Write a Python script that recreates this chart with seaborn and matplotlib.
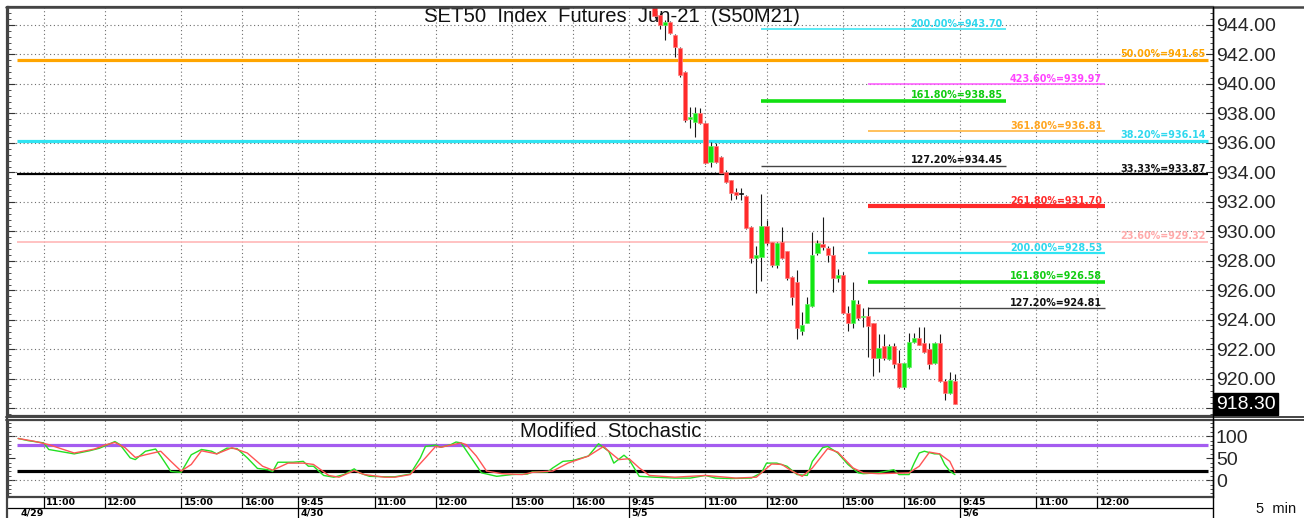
import numpy as np
import pandas as pd
import matplotlib
matplotlib.use("Agg")
import matplotlib.pyplot as plt
import matplotlib.transforms as mtransforms
from matplotlib.lines import Line2D
from matplotlib.ticker import MultipleLocator, FixedLocator, FixedFormatter
import seaborn as sns

# ---------------------------------------------------------------- data
title = "SET50  Index  Futures  Jun-21  (S50M21)"
stoch_title = "Modified  Stochastic"
interval_label = "5  min"

days = ["4/29", "4/30", "5/5", "5/6"]
sessions = [("9:45", "12:25"), ("14:15", "16:50")]          # 5-minute bars
day_ticks = {
    "4/29": ["11:00", "12:00", "15:00", "16:00"],
    "4/30": ["9:45", "11:00", "12:00", "15:00", "16:00"],
    "5/5": ["9:45", "11:00", "12:00", "15:00", "16:00"],
    "5/6": ["9:45", "11:00", "12:00"],
}
chart_start = ("4/29", "10:35")
first_candle = ("5/5", "10:10")

opens = [945.30, 944.70, 944.00, 944.20, 943.32, 942.44, 940.81, 937.63, 937.42, 938.03,
         937.36, 934.71, 935.80, 935.05, 934.03, 933.49, 932.68, 932.54, 932.41, 930.31,
         928.20, 928.27, 930.37, 929.29, 927.73, 929.29, 928.68, 926.92, 926.58, 923.25,
         923.80, 924.95, 928.54, 929.15, 928.88, 928.41, 926.85, 927.05, 924.47, 923.80,
         925.08, 924.20, 924.27, 923.80, 921.42, 922.24, 921.36, 922.24, 921.08, 919.46,
         920.81, 922.51, 922.78, 922.44, 922.03, 921.08, 922.44, 919.86, 919.05, 919.86]
highs = [945.50, 944.80, 944.34, 944.30, 943.40, 942.50, 940.85, 938.44, 938.44, 938.37,
         937.40, 936.07, 936.00, 935.10, 934.17, 933.50, 932.95, 932.95, 932.47, 930.35,
         929.02, 932.54, 930.78, 929.30, 929.29, 930.31, 928.70, 926.95, 927.39, 924.54,
         925.56, 929.97, 929.40, 930.98, 929.02, 929.02, 927.46, 927.25, 924.95, 926.58,
         925.36, 924.81, 924.88, 923.80, 923.05, 923.05, 922.37, 922.44, 921.97, 921.10,
         923.12, 923.12, 923.53, 923.53, 922.44, 922.50, 923.05, 920.00, 920.47, 920.34]
lows = [944.50, 943.70, 942.98, 943.40, 941.83, 940.47, 937.40, 937.02, 936.41, 937.30,
        934.57, 934.37, 934.64, 933.90, 933.30, 932.14, 932.20, 932.14, 930.17, 927.86,
        925.83, 926.64, 929.10, 927.60, 927.52, 928.15, 926.70, 925.02, 922.71, 922.98,
        923.80, 924.90, 928.40, 928.75, 927.93, 925.90, 926.58, 924.40, 923.25, 923.46,
        924.00, 923.53, 921.49, 920.20, 920.47, 921.30, 921.30, 920.75, 919.40, 919.33,
        920.75, 922.44, 922.30, 921.76, 920.68, 921.00, 919.80, 918.58, 919.00, 918.30]
closes = [944.60, 944.00, 944.20, 943.46, 942.51, 940.61, 937.56, 937.76, 938.03, 937.36,
          934.64, 935.80, 934.71, 933.97, 933.36, 932.61, 932.47, 932.54, 930.24, 928.20,
          928.41, 930.37, 929.22, 927.73, 929.22, 928.20, 926.85, 925.56, 923.46, 923.66,
          925.08, 928.41, 929.22, 928.95, 928.41, 926.85, 927.05, 924.47, 923.80, 925.36,
          924.14, 924.27, 923.59, 921.42, 922.10, 921.42, 922.24, 921.02, 919.46, 921.08,
          922.51, 922.78, 922.31, 921.83, 921.02, 922.44, 919.86, 919.05, 919.93, 918.30]
last_price = 918.30

# Fibonacci levels: full-width retracements
fib_full_pct = ["50.00%", "38.20%", "33.33%", "23.60%"]
fib_full_val = [941.65, 936.14, 933.87, 929.32]
# projections drawn from two anchor bars
fib_a_anchor, fib_a_len = ("5/5", "11:55"), 48
fib_a_pct = ["200.00%", "161.80%", "127.20%"]
fib_a_val = [943.70, 938.85, 934.45]
fib_b_anchor, fib_b_len = ("5/5", "15:25"), 46.5
fib_b_pct = ["423.60%", "361.80%", "261.80%", "200.00%", "161.80%", "127.20%"]
fib_b_val = [939.97, 936.81, 931.70, 928.53, 926.58, 924.81]

# Modified stochastic (bar number counted from 4/29 9:45)
k_bars = [10, 12, 15, 16, 21, 24, 26, 29, 30, 32, 33, 35, 37, 38, 40, 42, 44, 46, 48, 49,
          51, 53, 55, 57, 59, 60, 61, 64, 66, 67, 68, 70, 72, 74, 76, 77, 79, 82, 84, 87,
          89, 90, 92, 93, 95, 96, 97, 99, 101, 104, 107, 110, 111, 114, 115, 117, 119, 122,
          124, 126, 127, 129, 130, 132, 135, 139, 142, 145, 147, 150, 154, 156, 157, 159,
          161, 163, 165, 166, 168, 169, 171, 173, 175, 176, 179, 182, 183, 185, 186, 187,
          188, 190, 191, 192, 193, 194]
k_vals = [95, 90, 85, 70, 60, 67, 73, 88, 81, 51, 47, 66, 71, 55, 20, 18, 58, 70, 66, 60,
          73, 72, 51, 27, 24, 20, 41, 41, 43, 32, 32, 11, 7, 13, 26, 17, 9, 8, 8, 14,
          51, 77, 80, 75, 81, 87, 85, 51, 17, 9, 13, 14, 19, 19, 28, 43, 45, 55,
          83, 66, 39, 57, 47, 9, 7, 5, 5, 11, 5, 4, 5, 17, 39, 39,
          32, 13, 11, 43, 74, 77, 62, 36, 17, 15, 17, 24, 13, 13, 39, 62,
          66, 60, 60, 36, 21, 13]
d_bars = [10, 13, 16, 21, 25, 27, 29, 31, 33, 35, 38, 40, 42, 44, 46, 49, 52, 55, 58, 60,
          63, 66, 68, 71, 73, 76, 78, 82, 84, 87, 90, 92, 93, 95, 97, 98, 100, 102, 105,
          109, 111, 115, 118, 120, 122, 125, 126, 128, 130, 132, 134, 139, 145, 151, 155,
          158, 160, 162, 164, 166, 169, 171, 174, 176, 179, 185, 187, 189, 191, 193, 194]
d_vals = [95, 89, 81, 62, 71, 80, 86, 74, 52, 58, 66, 43, 21, 36, 67, 60, 74, 62, 32, 23,
          39, 39, 36, 11, 7, 22, 13, 7, 7, 13, 51, 77, 75, 80, 85, 81, 55, 21, 15,
          13, 18, 21, 39, 47, 55, 77, 66, 47, 49, 28, 11, 7, 11, 5, 7,
          37, 36, 21, 9, 28, 72, 64, 28, 17, 15, 17, 32, 64, 60, 43, 19]
stoch_hi, stoch_lo = 80, 20

# ---------------------------------------------------------------- helpers
def to_min(t):
    h, m = t.split(":")
    return int(h) * 60 + int(m)

bars = []
for d in days:
    for s, e in sessions:
        for m in range(to_min(s), to_min(e) + 1, 5):
            bars.append((d, f"{m // 60}:{m % 60:02d}"))
bar_pos = {b: i for i, b in enumerate(bars)}

W, H = 1304, 518
def fx(px): return px / W
def fy(py): return 1 - py / H

sns.set_style("white")
plt.rcParams["font.family"] = ["Liberation Sans", "DejaVu Sans"]

fig = plt.figure(figsize=(W / 100, H / 100), dpi=100)
ax = fig.add_axes([fx(8), fy(416), fx(1213) - fx(8), fy(7) - fy(416)])
axs = fig.add_axes([fx(8), fy(497), fx(1213) - fx(8), fy(420) - fy(497)])

start_idx = bar_pos[chart_start]
x_left, x_right = start_idx - 2.0, start_idx + 234.7
line_x0, line_x1 = start_idx - 0.2, x_right - 0.9

for a in (ax, axs):
    a.set_xlim(x_left, x_right)
    a.set_facecolor("white")
ax.set_ylim(917.49, 945.22)
axs.set_ylim(-38, 137)

# ticks / grid
tick_list = []
for d in days:
    for t in day_ticks[d]:
        tick_list.append((bar_pos[(d, t)], t, d, t == "9:45"))
tick_x = [t[0] for t in tick_list]

dot = (0, (1, 2.4))
gcol = "#6E6E6E"
for a in (ax, axs):
    a.set_xticks(tick_x)
    a.tick_params(axis="x", length=0, labelbottom=False)
    a.grid(True, axis="x", ls=dot, color=gcol, lw=0.8)

price_ticks = np.arange(918, 945, 2)
ax.yaxis.set_major_locator(FixedLocator(price_ticks))
ax.yaxis.set_major_formatter(FixedFormatter(["" if v < 920 else f"{v:.2f}" for v in price_ticks]))
ax.yaxis.set_minor_locator(MultipleLocator(0.4))
ax.grid(True, axis="y", ls=dot, color=gcol, lw=0.8)
ax.tick_params(axis="y", which="both", direction="in", left=True, right=True,
               labelleft=False, labelright=True, labelsize=14, pad=2, color="#333333")
ax.tick_params(axis="y", which="major", length=5, width=0.8)
ax.tick_params(axis="y", which="minor", length=2.5, width=0.6)

axs.set_yticks([0, 50, 100])
axs.yaxis.set_minor_locator(MultipleLocator(10))
axs.tick_params(axis="y", which="both", direction="in", left=True, right=True,
                labelleft=False, labelright=True, labelsize=14, pad=2, color="#333333")
axs.tick_params(axis="y", which="major", length=5, width=0.8)
axs.tick_params(axis="y", which="minor", length=2.5, width=0.6)
for v in (0, 100):
    axs.axhline(v, ls=dot, color=gcol, lw=0.8, zorder=1)

for a in (ax, axs):
    for side in ("left", "top", "bottom"):
        a.spines[side].set_color("#444444")
        a.spines[side].set_linewidth(1.6)
    a.spines["right"].set_color("black")
    a.spines["right"].set_linewidth(1.0)
    a.set_xlabel("")
    a.set_ylabel("")

# ---------------------------------------------------------------- fib lines
lab_off = mtransforms.ScaledTranslation(-3 / 100, 2.5 / 100, fig.dpi_scale_trans)
fib_font = dict(family="DejaVu Sans", fontweight="bold", fontsize=6.9)

full_style = [("#FFA500", 2.3, "#FFA500"), ("#2FE4F2", 2.3, "#2FD8EE"),
              ("#000000", 1.6, "#111111"), ("#FFB8B8", 1.2, "#FFAAAA")]
for p, v, (c, lw, tc) in zip(fib_full_pct, fib_full_val, full_style):
    ax.hlines(v, line_x0, line_x1, color=c, lw=lw, zorder=3)
    ax.text(line_x1, v, f"{p}={v:.2f}", color=tc, ha="right", va="baseline",
            transform=ax.transData + lab_off, zorder=6, **fib_font)

a_style = [("#2FE4F2", 1.1, "#2FD8EE"), ("#11E011", 2.6, "#11CC11"), ("#444444", 1.0, "#111111")]
ax0 = bar_pos[fib_a_anchor]
for p, v, (c, lw, tc) in zip(fib_a_pct, fib_a_val, a_style):
    ax.hlines(v, ax0, ax0 + fib_a_len, color=c, lw=lw, zorder=3)
    ax.text(ax0 + fib_a_len, v, f"{p}={v:.2f}", color=tc, ha="right", va="baseline",
            transform=ax.transData + lab_off, zorder=6, **fib_font)

b_style = [("#FF55FF", 1.1, "#FF44FF"), ("#FFB030", 1.1, "#FFA520"), ("#FF2A2A", 3.0, "#FF2A2A"),
           ("#2FE4F2", 1.6, "#2FD8EE"), ("#11E011", 2.6, "#11CC11"), ("#444444", 1.0, "#111111")]
bx0 = bar_pos[fib_b_anchor]
for p, v, (c, lw, tc) in zip(fib_b_pct, fib_b_val, b_style):
    ax.hlines(v, bx0, bx0 + fib_b_len, color=c, lw=lw, zorder=3)
    ax.text(bx0 + fib_b_len, v, f"{p}={v:.2f}", color=tc, ha="right", va="baseline",
            transform=ax.transData + lab_off, zorder=6, **fib_font)

# ---------------------------------------------------------------- candles
c0 = bar_pos[first_candle]
df = pd.DataFrame({"x": c0 + np.arange(len(opens)), "o": opens, "h": highs,
                   "l": lows, "c": closes})
df["lo"] = df[["o", "c"]].min(axis=1)
df["ht"] = (df["c"] - df["o"]).abs()
doji = df["ht"] < 0.05
df.loc[doji, "ht"] = 0.07
colors = np.where(doji, "#111111", np.where(df["c"] >= df["o"], "#11E611", "#FF2A2A"))
edges = np.where(doji, "#111111", np.where(df["c"] >= df["o"], "#66F066", "#FF8080"))
ax.vlines(df["x"], df["l"], df["h"], color="#1A1A1A", lw=0.8, zorder=4)
ax.bar(df["x"], df["ht"], bottom=df["lo"], width=0.82, color=colors, edgecolor=edges,
       linewidth=0.5, zorder=5)

# titles and last price
ax.text(0.5015, 0.976, title, transform=ax.transAxes, ha="center", va="center",
        fontsize=14.6, color="#111111", zorder=2)
ax.text(1.0, last_price, f"{last_price:.2f}", color="white", fontsize=14,
        ha="left", va="center", zorder=10, clip_on=False,
        transform=mtransforms.blended_transform_factory(ax.transAxes, ax.transData)
        + mtransforms.ScaledTranslation(3.5 / 100, 0, fig.dpi_scale_trans),
        bbox=dict(boxstyle="square,pad=0.12", fc="black", ec="black"))

# ---------------------------------------------------------------- stochastic
axs.hlines(stoch_hi, line_x0, line_x1, color="#A45CF0", lw=2.3, zorder=3)
axs.hlines(stoch_lo, line_x0, line_x1, color="black", lw=2.3, zorder=3)
sns.lineplot(x=k_bars, y=k_vals, ax=axs, color="#22E022", lw=1.0, zorder=4,
             estimator=None)
sns.lineplot(x=d_bars, y=d_vals, ax=axs, color="#FF5555", lw=1.0, zorder=5,
             estimator=None)
axs.set_xlabel("")
axs.set_ylabel("")
axs.text(0.5, 0.845, stoch_title, transform=axs.transAxes, ha="center", va="center",
         fontsize=14.6, color="#111111", zorder=6)

# ---------------------------------------------------------------- time axis
tb = mtransforms.blended_transform_factory(axs.transData, fig.transFigure)
toff = mtransforms.ScaledTranslation(2.5 / 100, 0, fig.dpi_scale_trans)
lab_font = dict(family="DejaVu Sans", fontweight="bold", fontsize=6.8, color="black")
for xi, t, d, is_day in tick_list:
    fig.add_artist(Line2D([xi, xi], [fy(497), fy(508)], transform=tb, color="black", lw=0.9))
    fig.text(xi, fy(502.8), t, transform=tb + toff, ha="left", va="center", **lab_font)
    if is_day:
        fig.add_artist(Line2D([xi, xi], [fy(508), fy(518)], transform=tb, color="black", lw=0.9))
        fig.text(xi, fy(513.5), d, transform=tb + toff, ha="left", va="center", **lab_font)
fig.text(start_idx, fy(513.5), chart_start[0], transform=tb + toff, ha="left",
         va="center", **lab_font)

# frame lines
def fline(x0, x1, y0, y1, c, lw):
    fig.add_artist(Line2D([fx(x0), fx(x1)], [fy(y0), fy(y1)], transform=fig.transFigure,
                          color=c, lw=lw))
fline(6, 1304, 7, 7, "#444444", 1.8)
fline(6, 1304, 416.5, 416.5, "#444444", 1.4)
fline(6, 1304, 419.5, 419.5, "#444444", 1.4)
fline(8, 1213, 508, 508, "black", 0.9)
fline(1213, 1213, 7, 518, "black", 1.0)
fline(7, 7, 7, 518, "#444444", 1.6)
fig.text(fx(1276), fy(509), interval_label, ha="center", va="center", fontsize=10.5,
         color="#111111")

fig.savefig("out.png", dpi=100, facecolor="white")
